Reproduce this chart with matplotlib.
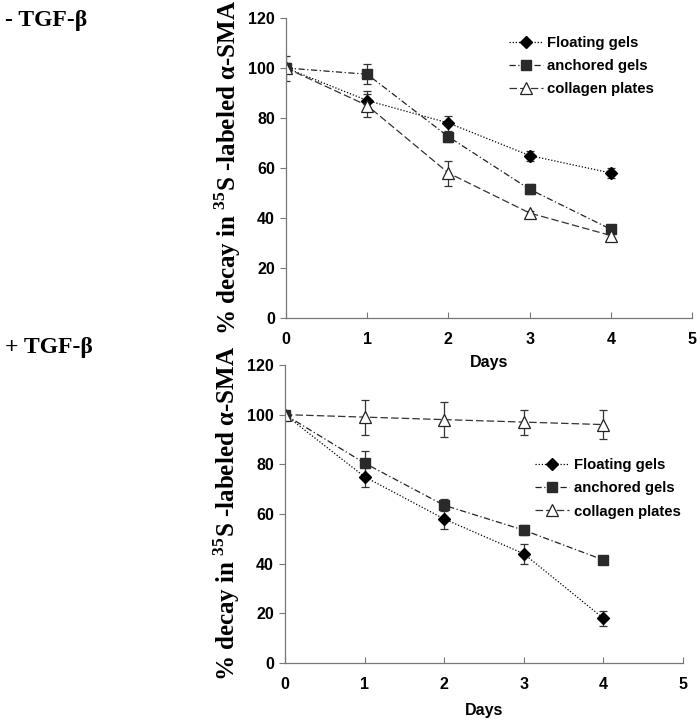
import matplotlib
matplotlib.use("Agg")
import matplotlib.pyplot as plt
from matplotlib.lines import Line2D
import numpy as np

days = [0, 1, 2, 3, 4]

# Top panel (- TGF-beta)
top_floating = [100, 87, 78, 65, 58]
top_floating_err = [5, 4, 3, 2, 2]
top_anchored = [100, 97.5, 72.5, 51.5, 35.5]
top_anchored_err = [2, 4, 2, 2, 1]
top_collagen = [100, 85, 58, 42, 33]
top_collagen_err = [2, 4.5, 5, 1, 1]

# Bottom panel (+ TGF-beta)
bot_floating = [100, 75, 58, 44, 18]
bot_floating_err = [1, 4, 4, 4, 3]
bot_anchored = [100, 80.5, 63.5, 53.5, 41.5]
bot_anchored_err = [1, 5, 2.5, 2, 1]
bot_collagen = [100, 99, 98, 97, 96]
bot_collagen_err = [1, 7, 7, 5, 6]

series_names = ["Floating gels", "anchored gels", "collagen plates"]
yticks = [0, 20, 40, 60, 80, 100, 120]
xticks = [0, 1, 2, 3, 4, 5]

plt.rcParams['mathtext.fontset'] = 'custom'
plt.rcParams['mathtext.rm'] = 'Liberation Serif:bold'
plt.rcParams['mathtext.bf'] = 'Liberation Serif:bold'

fig = plt.figure(figsize=(7, 7.2), dpi=100)
ax1 = fig.add_axes([0.4086, 0.5583, 0.58, 0.4167])
ax2 = fig.add_axes([0.407, 0.0792, 0.5686, 0.4139])
ax2.patch.set_visible(False)
ax1.set_zorder(2)

sans = dict(family='Liberation Sans', weight='bold')

styles = [
    dict(color='black', linestyle=(0, (1, 1.5)), lw=0.9, marker='D', ms=6,
         mfc='black', mec='black'),
    dict(color='#222222', linestyle=(0, (5, 2, 1, 2)), lw=0.9, marker='s', ms=7.5,
         mfc='#2a2a2a', mec='#2a2a2a'),
    dict(color='#333333', linestyle=(0, (6, 2.5)), lw=0.9, marker='^', ms=8,
         mfc='white', mec='#222222', mew=0.9),
]

def draw(ax, data, legend_loc, label_x, xlabelpad):
    handles = []
    for (vals, errs), st in zip(data, styles):
        ax.errorbar(days, vals, yerr=errs, ecolor='#333333', elinewidth=0.9,
                    capsize=3, capthick=0.9, **st)
        handles.append(Line2D([], [], **st))
    ax.set_xlim(0, 5)
    ax.set_ylim(0, 120)
    ax.set_xticks(xticks)
    ax.set_yticks(yticks)
    for s in ['top', 'right']:
        ax.spines[s].set_visible(False)
    for s in ['left', 'bottom']:
        ax.spines[s].set_color('#777777')
        ax.spines[s].set_linewidth(0.9)
    ax.tick_params(axis='x', direction='in', length=4, color='#777777', pad=10)
    ax.tick_params(axis='y', direction='out', length=4, color='#777777', pad=4)
    for lab in ax.get_xticklabels() + ax.get_yticklabels():
        lab.set_fontfamily('Liberation Sans')
        lab.set_fontweight('bold')
        lab.set_fontsize(11.5)
    ax.set_xlabel('Days', fontsize=11.5, labelpad=xlabelpad, **sans)
    ax.set_ylabel(r'% decay in $^{35}$S -labeled α-SMA', family='Liberation Serif',
                  weight='bold', fontsize=18)
    ax.yaxis.set_label_coords(label_x, 0.5)
    ax.legend(handles, series_names, loc='upper left', bbox_to_anchor=legend_loc,
              frameon=False, prop=dict(family='Liberation Sans', weight='bold', size=10.7),
              handlelength=2.3, handletextpad=0.3, labelspacing=0.62, borderpad=0)

draw(ax1, [(top_floating, top_floating_err), (top_anchored, top_anchored_err),
           (top_collagen, top_collagen_err)], (0.53, 0.965), -0.105, 6)
draw(ax2, [(bot_floating, bot_floating_err), (bot_anchored, bot_anchored_err),
           (bot_collagen, bot_collagen_err)], (0.61, 0.712), -0.107, 8)

fig.text(0.007, 0.972, '- TGF-β', family='Liberation Serif', weight='bold', fontsize=17,
         ha='left', va='center')
fig.text(0.007, 0.517, '+ TGF-β', family='Liberation Serif', weight='bold', fontsize=17,
         ha='left', va='center')

fig.savefig('out.png', dpi=100)
